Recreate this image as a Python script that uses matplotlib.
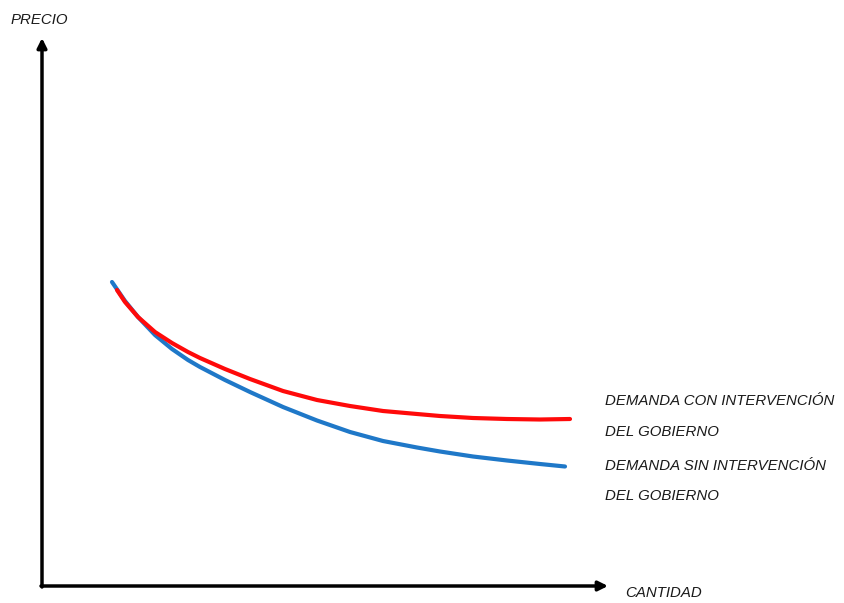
import matplotlib.pyplot as plt

# curve points (quantity, price), origin at the axes corner
q_con = [75, 83, 96, 113, 130, 146, 158, 183, 208, 241, 275, 308, 341, 375, 398, 431, 465, 498, 528]
p_con = [296, 284, 269, 254, 243, 234, 228, 217, 207, 195, 186, 180, 175, 172, 170, 168, 167, 166.5, 167]
q_sin = [70, 83, 96, 113, 130, 146, 158, 183, 208, 241, 275, 308, 341, 375, 398, 431, 465, 498, 523]
p_sin = [304, 285, 269, 251, 237, 226, 219, 206, 194, 179, 165.5, 154, 145, 138.5, 134.5, 129.5, 125.5, 122, 119.5]

label_con = ["DEMANDA CON INTERVENCIÓN", "DEL GOBIERNO"]
label_sin = ["DEMANDA SIN INTERVENCIÓN", "DEL GOBIERNO"]

fig = plt.figure(figsize=(8.45, 6.03), dpi=100)
ax = fig.add_axes([0, 0, 1, 1])
ax.set_xlim(-42, 803)
ax.set_ylim(-17, 586)
ax.axis("off")

# axes arrows
ax.annotate("", xy=(0, 548), xytext=(0, -1),
            arrowprops=dict(arrowstyle="-|>", color="black", lw=2.5, mutation_scale=14, shrinkA=0, shrinkB=0))
ax.annotate("", xy=(566, 0), xytext=(-1, 0),
            arrowprops=dict(arrowstyle="-|>", color="black", lw=2.5, mutation_scale=14, shrinkA=0, shrinkB=0))

ax.plot(q_sin, p_sin, color="#1f78c8", lw=3, solid_capstyle="round", solid_joinstyle="round")
ax.plot(q_con, p_con, color="#ff0a0a", lw=3, solid_capstyle="round", solid_joinstyle="round")

tk = dict(family=["Liberation Sans", "DejaVu Sans"], style="italic", fontsize=10.8,
          color="#1a1a1a", va="center", ha="left")
ax.text(-31, 566, "PRECIO", **tk)
ax.text(583, -7, "CANTIDAD", **tk)
ax.text(563, 185, label_con[0], **tk)
ax.text(563, 154, label_con[1], **tk)
ax.text(563, 120, label_sin[0], **tk)
ax.text(563, 90, label_sin[1], **tk)

fig.savefig("out.png", dpi=100)
